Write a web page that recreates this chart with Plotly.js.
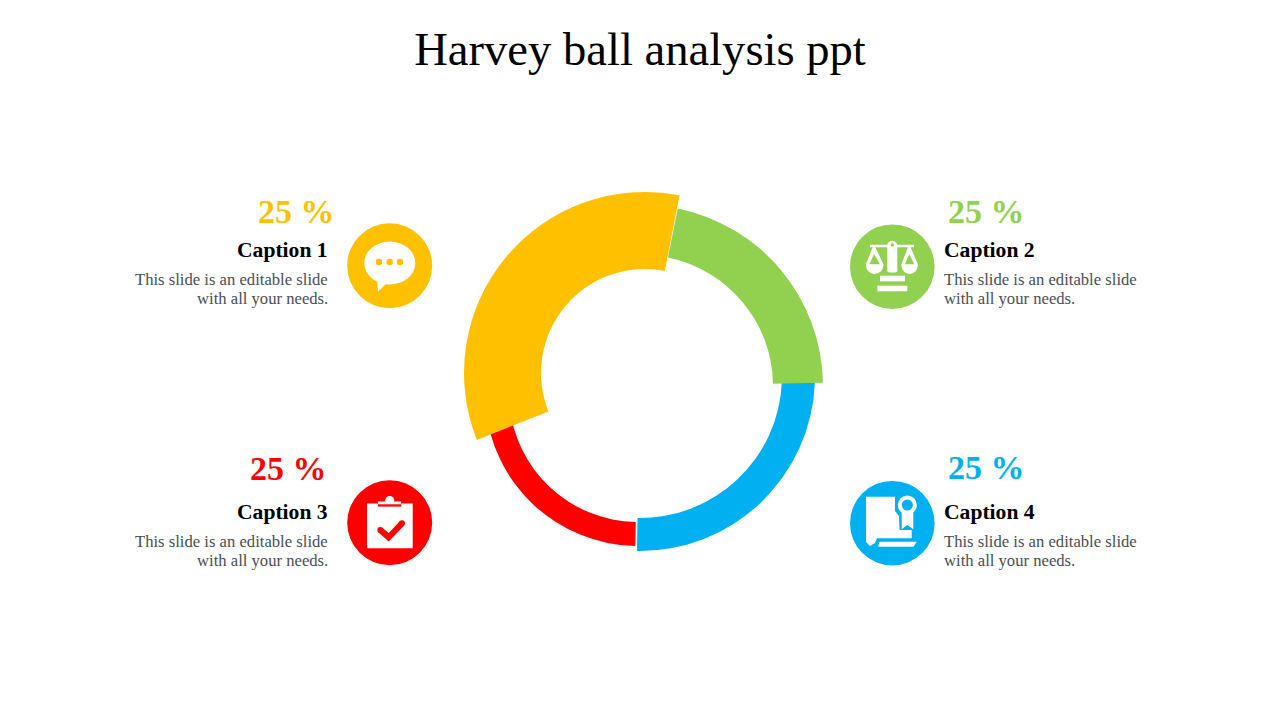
<!DOCTYPE html>
<html><head><meta charset="utf-8">
<script src="https://cdn.plot.ly/plotly-3.0.1.min.js"></script>
<style>html,body{margin:0;padding:0;background:#fff}#c{width:1280px;height:720px}</style>
</head><body><div id="c"></div>
<script>
const titleText = "Harvey ball analysis ppt";
// ring segments (drawn bottom to top)
const segNames  = ["Caption 3","Caption 4","Caption 2","Caption 1"];
const segColors = ["#FF0000","#00B0F0","#92D050","#FFC000"];
const segStart  = [185, -91, 1, 79];
const segEnd    = [269, -2.2, 78.6, 201.7];
const segInner  = [129, 142, 131, 104];
const segOuter  = [153, 175, 181, 181];
// captions
const percents  = [25,25,25,25];
const captions  = ["Caption 1","Caption 2","Caption 3","Caption 4"];
const pctColors = ["#FFC000","#92D050","#FF0000","#00B0F0"];
const bodyLine1 = "This slide is an editable slide";
const bodyLine2 = "with all your needs.";

const W=1280,H=720;
const fx=x=>x/W, fy=y=>1-y/H;
const SERIF="'Liberation Serif','DejaVu Serif',serif";
const centers=[[638,393],[640,376],[642,386],[645,373]];

const traces=[],layout={
  width:W,height:H,margin:{l:0,r:0,t:0,b:0},paper_bgcolor:"#fff",showlegend:false,
  title:{text:titleText,font:{family:SERIF,size:46.6,color:"#000"},x:0.5,xanchor:"center",xref:"paper",y:0.932,yanchor:"middle",yref:"paper"},
  shapes:[],annotations:[]
};
segNames.forEach((n,i)=>{
  const id=i===0?"polar":"polar"+(i+1);
  const R=200,[cx,cy]=centers[i];
  layout[id]={
    domain:{x:[fx(cx-R),fx(cx+R)],y:[fy(cy+R),fy(cy-R)]},
    bgcolor:"rgba(0,0,0,0)",
    radialaxis:{visible:false,range:[0,R]},
    angularaxis:{visible:false,direction:"counterclockwise",rotation:0}
  };
  traces.push({type:"barpolar",subplot:id,name:n,
    theta:[(segStart[i]+segEnd[i])/2],width:[segEnd[i]-segStart[i]],
    base:[segInner[i]],r:[segOuter[i]-segInner[i]],
    marker:{color:segColors[i],line:{width:0}},hoverinfo:"name"});
});

// icon helpers
function circ(cx,cy,r,color,ry){ry=ry||r;layout.shapes.push({type:"circle",xref:"paper",yref:"paper",x0:fx(cx-r),x1:fx(cx+r),y0:fy(cy+ry),y1:fy(cy-ry),fillcolor:color,line:{width:0}});}
function poly(pts,color){layout.shapes.push({type:"path",xref:"paper",yref:"paper",path:"M"+pts.map(p=>fx(p[0])+","+fy(p[1])).join(" L")+" Z",fillcolor:color,line:{width:0}});}
function rect(x0,y0,x1,y1,color){poly([[x0,y0],[x1,y0],[x1,y1],[x0,y1]],color);}
const WHT="#FFFFFF";

// chat icon
circ(389.7,265.7,42.5,"#FFC000");
circ(389.8,263,25.5,WHT,21.5);
poly([[377,278],[378,291.5],[387,283]],WHT);
[379,389.7,400].forEach(x=>circ(x,262,3.2,"#FFC000"));

// scales icon
const G="#92D050";
circ(892.3,266.7,42.3,G);
[[874,866,883.3],[909.3,901.5,917.7]].forEach(a=>{
  const [ax,l,r]=a,m=(l+r)/2;
  circ(m,265.5,(r-l)/2,WHT,8.5);
  rect(l-1,256,r+1,265.5,G);
  poly([[ax-1.2,247],[ax+1.2,247],[r,264],[r,266],[l,266],[l,264]],WHT);
  poly([[ax,254],[r-3.4,264.3],[l+3.4,264.3]],G);
});
rect(870,244.7,914,247.3,WHT);
rect(887.3,245,897.3,271,WHT);
circ(892.3,271,5,WHT,1.5);
circ(892.3,245.7,5,WHT);circ(892.3,245,1.7,G);
rect(880,275.7,905,281.3,WHT);
rect(877.3,285.7,907.3,291.3,WHT);

// clipboard icon
const RD="#FF0000";
circ(389.7,522.7,42.5,RD);
rect(367,503.5,412.7,548.3,WHT);
circ(389.7,500.5,4.5,WHT);
rect(378,501.5,401,504,WHT);
rect(378,504.3,401.3,506.6,RD);
poly([[382.3,527.7],[388.7,533],[399.8,521.2],[404.2,525.4],[388.7,541.6],[378.3,532.3]],RD);
circ(380.3,530,3,RD);circ(402,523.3,3,RD);

// certificate icon
const B="#00B0F0";
circ(892.3,523.2,42.3,B);
poly([[866,496.7],[895,496.7],[895,511],[899,516],[899.5,530],[911.7,530],[911.7,538.3],[877,538.3],[875,543],[870,546],[866,542]],WHT);
poly([[879.5,541.7],[916.7,541.7],[913.5,546.7],[878,546.7]],WHT);
circ(907.3,505,12,B);
circ(907.3,505,9.5,WHT);circ(907.3,505,5.5,B);
poly([[901.7,512],[913.3,512],[913.3,529.3],[907.3,525],[901.7,529.3]],WHT);

// text
function txt(text,x,base,size,color,anchor,bold){
  layout.annotations.push({xref:"paper",yref:"paper",x:fx(x),y:fy(base-size*0.29),xanchor:anchor,yanchor:"middle",
    showarrow:false,text:bold?"<b>"+text+"</b>":text,font:{family:SERIF,size:size,color:color},borderpad:0,borderwidth:0});
}
const tb=[
 {pctX:335,pctB:221.3,capB:256,l1:284.5,l2:303.5,a:"right",capX:327.5,bodyX:328},
 {pctX:948.3,pctB:221,capB:256.5,l1:284.5,l2:303.5,a:"left",capX:944.2,bodyX:944.2},
 {pctX:326.5,pctB:478.7,capB:518.5,l1:546.5,l2:565.5,a:"right",capX:327.5,bodyX:328},
 {pctX:948.3,pctB:477.7,capB:518.5,l1:546.5,l2:565.5,a:"left",capX:944.2,bodyX:944.2}
];
tb.forEach((t,i)=>{
  txt(percents[i]+" %",t.pctX,t.pctB,34,pctColors[i],t.a,true);
  txt(captions[i],t.capX,t.capB,21.6,"#000000",t.a,true);
  txt(bodyLine1,t.bodyX,t.l1,16.65,"#4A4E53",t.a,false);
  txt(bodyLine2,t.bodyX,t.l2,16.65,"#4A4E53",t.a,false);
});
Plotly.newPlot("c",traces,layout,{displayModeBar:false,staticPlot:true});
</script></body></html>
